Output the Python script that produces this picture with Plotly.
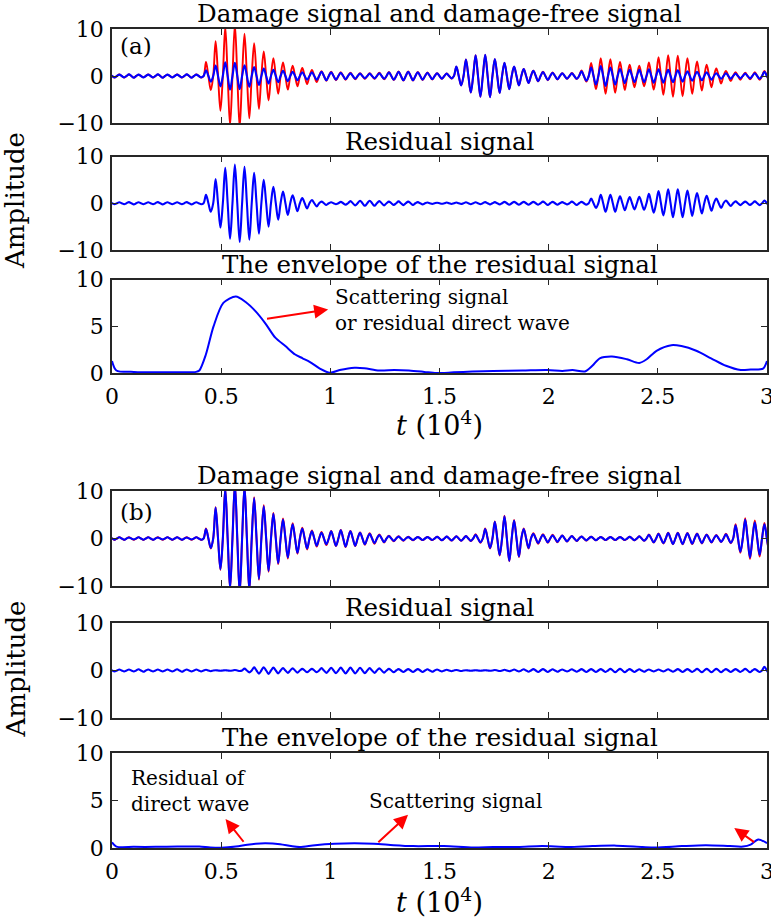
import plotly.graph_objects as go
from plotly.subplots import make_subplots

# ---------------- data ----------------
# oscillation grid: one peak per cycle, amplitudes listed per cycle (cycle -1 .. 67)
T0 = 0.0336      # time of first listed peak (x 10^4), cycle index 0
PERIOD = 0.0441  # carrier period (x 10^4)

a_damage = [0.35, 0.35, 0.35, 0.3, 0.35, 0.35, 0.3, 0.35, 0.35, 0.35,
            3.0, 7.4, 10.5, 11.0, 9.0, 7.0, 5.2, 3.8, 2.9, 2.2,
            1.7, 1.3, 1.0, 0.9, 0.8, 0.7, 0.6, 0.6, 0.7, 0.85,
            0.95, 0.95, 0.85, 0.75, 0.6, 0.55, 2.0, 3.5, 4.4, 4.5,
            3.6, 2.8, 2.0, 1.5, 1.15, 0.9, 0.75, 0.6, 0.65, 1.2,
            2.8, 3.8, 3.6, 3.0, 2.4, 2.2, 2.9, 4.0, 4.4, 4.3,
            3.8, 3.1, 2.4, 1.6, 1.1, 0.8, 0.7, 0.8, 1.1]
a_free = [0.3, 0.3, 0.35, 0.3, 0.3, 0.35, 0.3, 0.3, 0.35, 0.3,
          1.2, 2.2, 2.9, 2.8, 2.3, 1.9, 1.6, 1.3, 1.1, 0.9,
          0.8, 0.8, 0.9, 0.8, 0.7, 0.6, 0.5, 0.5, 0.6, 0.8,
          0.9, 0.9, 0.8, 0.7, 0.55, 0.5, 2.0, 3.5, 4.4, 4.5,
          3.6, 2.8, 2.0, 1.5, 1.1, 0.85, 0.7, 0.55, 0.6, 1.0,
          1.8, 2.1, 1.8, 1.5, 1.3, 1.3, 1.4, 1.4, 1.3, 1.2,
          1.0, 0.9, 0.8, 0.6, 0.55, 0.5, 0.5, 0.6, 0.9]
a_residual = [0.2, 0.2, 0.25, 0.2, 0.2, 0.25, 0.2, 0.2, 0.25, 0.2,
              1.8, 5.2, 7.6, 8.3, 7.8, 6.5, 5.0, 3.5, 2.5, 1.7,
              1.1, 0.7, 0.35, 0.2, 0.3, 0.45, 0.55, 0.55, 0.45, 0.35,
              0.4, 0.35, 0.25, 0.15, 0.1, 0.15, 0.15, 0.2, 0.2, 0.25,
              0.25, 0.3, 0.3, 0.3, 0.3, 0.35, 0.3, 0.25, 0.35, 0.3,
              1.0, 1.8, 1.8, 1.5, 1.3, 1.4, 2.0, 2.6, 3.0, 3.0,
              2.7, 2.2, 1.6, 1.0, 0.6, 0.4, 0.35, 0.4, 0.6]
b_damage = [0.3, 0.3, 0.25, 0.3, 0.3, 0.25, 0.3, 0.3, 0.25, 0.3,
            2.1, 6.6, 10.6, 11.6, 11.1, 8.7, 7.0, 5.4, 4.2, 3.2,
            2.3, 1.7, 1.4, 1.6, 1.8, 1.6, 1.3, 1.1, 0.85, 0.6,
            0.5, 0.4, 0.35, 0.35, 0.4, 0.45, 0.5, 0.55, 0.9, 2.1,
            3.6, 4.8, 3.9, 2.1, 1.1, 0.9, 0.8, 0.65, 0.55, 0.45,
            0.4, 0.35, 0.35, 0.35, 0.4, 0.5, 0.85, 1.05, 1.2, 1.2,
            1.15, 1.05, 0.85, 0.75, 1.0, 3.0, 4.3, 3.8, 3.3]
b_free = [0.25, 0.25, 0.2, 0.25, 0.25, 0.2, 0.25, 0.25, 0.2, 0.25,
          2.0, 6.5, 10.5, 11.5, 11.0, 8.5, 6.8, 5.2, 4.0, 3.0,
          2.1, 1.5, 1.2, 1.5, 1.7, 1.5, 1.2, 1.0, 0.75, 0.5,
          0.4, 0.3, 0.3, 0.3, 0.35, 0.4, 0.45, 0.5, 0.8, 2.0,
          3.5, 4.7, 3.8, 2.0, 1.0, 0.8, 0.7, 0.6, 0.5, 0.4,
          0.35, 0.3, 0.3, 0.3, 0.35, 0.45, 0.8, 1.0, 1.15, 1.15,
          1.1, 1.0, 0.8, 0.7, 0.9, 2.8, 4.0, 3.4, 3.0]
b_residual = [0.2, 0.2, 0.2, 0.25, 0.2, 0.2, 0.2, 0.25, 0.2, 0.2,
              0.15, 0.05, 0.05, 0.1, 0.4, 0.65, 0.7, 0.6, 0.5, 0.45,
              0.35, 0.35, 0.5, 0.55, 0.6, 0.6, 0.55, 0.5, 0.45, 0.35,
              0.3, 0.3, 0.3, 0.25, 0.2, 0.15, 0.1, 0.05, 0.05, 0.05,
              0.1, 0.15, 0.2, 0.25, 0.3, 0.3, 0.25, 0.2, 0.25, 0.3,
              0.3, 0.3, 0.35, 0.35, 0.3, 0.25, 0.2, 0.2, 0.25, 0.3,
              0.3, 0.35, 0.35, 0.35, 0.3, 0.3, 0.35, 0.3, 0.8]

env_a_t = [0, 0.02, 0.1, 0.2, 0.3, 0.385, 0.4, 0.43, 0.465, 0.51, 0.567, 0.612,
           0.658, 0.703, 0.748, 0.794, 0.839, 0.873, 0.907, 0.952, 0.998, 1.043,
           1.111, 1.156, 1.224, 1.293, 1.36, 1.43, 1.485, 1.565, 1.65, 1.746,
           1.88, 1.995, 2.063, 2.109, 2.166, 2.2, 2.234, 2.29, 2.358, 2.415,
           2.449, 2.494, 2.562, 2.608, 2.676, 2.744, 2.812, 2.88, 2.925, 2.982, 3.0]
env_a_v = [1.3, 0.3, 0.15, 0.1, 0.12, 0.15, 0.3, 2.0, 5.0, 7.5, 8.2, 7.6,
           6.6, 5.3, 3.8, 2.9, 2.0, 1.6, 1.2, 0.5, 0.05, 0.35,
           0.6, 0.55, 0.3, 0.35, 0.3, 0.15, 0.02, 0.1, 0.18, 0.25,
           0.3, 0.35, 0.25, 0.35, 0.2, 0.8, 1.6, 1.8, 1.5, 1.1,
           1.5, 2.4, 3.0, 2.9, 2.4, 1.6, 0.8, 0.35, 0.4, 0.5, 1.3]
env_b_t = [0, 0.02, 0.1, 0.2, 0.3, 0.4, 0.45, 0.5, 0.567, 0.62, 0.658, 0.703,
           0.77, 0.82, 0.86, 0.93, 1.02, 1.11, 1.2, 1.29, 1.38, 1.52, 1.655,
           1.746, 1.86, 1.97, 2.09, 2.2, 2.31, 2.43, 2.49, 2.61, 2.72, 2.83,
           2.89, 2.925, 2.96, 3.0]
env_b_v = [0.6, 0.15, 0.12, 0.12, 0.15, 0.15, 0.05, 0.02, 0.15, 0.35, 0.45, 0.5,
           0.4, 0.2, 0.1, 0.3, 0.45, 0.5, 0.45, 0.3, 0.2, 0.2, 0.05,
           0.1, 0.1, 0.2, 0.1, 0.2, 0.25, 0.1, 0.05, 0.2, 0.3, 0.2,
           0.15, 0.35, 0.9, 0.5]

x_ticks = [0, 0.5, 1, 1.5, 2, 2.5, 3]
x_tick_text = ["0", "0.5", "1", "1.5", "2", "2.5", "3"]
titles = ["Damage signal and damage-free signal", "Residual signal",
          "The envelope of the residual signal"] * 2

RED = "#ff0000"
BLUE = "#0000ff"
FONT = "DejaVu Serif"
AX = "#262626"


def wave(amps):
    xs, ys = [], []
    for i, a in enumerate(amps):
        tk = T0 + (i - 1) * PERIOD
        xs += [tk - PERIOD / 4, tk, tk + PERIOD / 4, tk + PERIOD / 2]
        ys += [0, a, 0, -a]
    return xs, ys


fig = make_subplots(rows=6, cols=1)

def add_wave(amps, color, width, row):
    xs, ys = wave(amps)
    fig.add_trace(go.Scatter(x=xs, y=ys, mode="lines",
                             line=dict(color=color, width=width, shape="spline", smoothing=1),
                             showlegend=False, hoverinfo="skip"), row=row, col=1)

add_wave(a_damage, RED, 1.9, 1)
add_wave(a_free, BLUE, 2.1, 1)
add_wave(a_residual, BLUE, 2.1, 2)
fig.add_trace(go.Scatter(x=env_a_t, y=env_a_v, mode="lines",
                         line=dict(color=BLUE, width=2, shape="spline", smoothing=0.8),
                         showlegend=False), row=3, col=1)
add_wave(b_damage, RED, 1.9, 4)
add_wave(b_free, BLUE, 2.1, 4)
add_wave(b_residual, BLUE, 2.1, 5)
fig.add_trace(go.Scatter(x=env_b_t, y=env_b_v, mode="lines",
                         line=dict(color=BLUE, width=2, shape="spline", smoothing=0.8),
                         showlegend=False), row=6, col=1)

W, H = 771, 917
def py(px):
    return 1 - px / H

frames = [(29, 123), (156.5, 250), (279.5, 373.3), (491, 586), (623, 718), (753, 848)]
xdom = [112 / W, 767 / W]

layout = dict(width=W, height=H, margin=dict(l=0, r=0, t=0, b=0, autoexpand=False),
              paper_bgcolor="white", plot_bgcolor="white",
              font=dict(family=FONT, size=22, color="black"))
for i, (top, bot) in enumerate(frames, start=1):
    sfx = "" if i == 1 else str(i)
    show_x = i in (3, 6)
    layout["xaxis" + sfx] = dict(domain=xdom, range=[0, 3], tickvals=x_ticks, ticktext=x_tick_text,
                                 showticklabels=show_x, ticks="inside", ticklen=6, tickwidth=1,
                                 tickcolor=AX, showline=True, linecolor=AX, linewidth=1.5,
                                 mirror="allticks", showgrid=False, zeroline=False, automargin=False,
                                 tickfont=dict(family=FONT, size=22), ticklabelstandoff=3,
                                 ticklabeloverflow="allow")
    if i in (3, 6):
        yr, yt = [0, 10], [0, 5, 10]
    else:
        yr, yt = [-10, 10], [-10, 0, 10]
    layout["yaxis" + sfx] = dict(domain=[py(bot), py(top)], range=yr, tickvals=yt,
                                 ticks="inside", ticklen=6, tickwidth=1, tickcolor=AX,
                                 showline=True, linecolor=AX, linewidth=1.5, mirror="allticks",
                                 showgrid=False, zeroline=False, automargin=False,
                                 tickfont=dict(family=FONT, size=22), ticklabelstandoff=2,
                                 ticklabeloverflow="allow")
fig.update_layout(**layout)

ann = []
xc = (xdom[0] + xdom[1]) / 2
for (top, bot), t in zip(frames, titles):
    ann.append(dict(text=t, xref="paper", yref="paper", x=xc, y=py(top), xanchor="center",
                    yanchor="bottom", showarrow=False, font=dict(size=24.5), yshift=-1))
ann.append(dict(text="(a)", xref="paper", yref="paper", x=118 / W, y=py(46), xanchor="left",
                yanchor="middle", showarrow=False, font=dict(size=23)))
ann.append(dict(text="(b)", xref="paper", yref="paper", x=118 / W, y=py(512), xanchor="left",
                yanchor="middle", showarrow=False, font=dict(size=23)))
for yc in (201, 669.5):
    ann.append(dict(text="Amplitude", xref="paper", yref="paper", x=15 / W, y=py(yc),
                    xanchor="center", yanchor="middle", textangle=-90, showarrow=False,
                    font=dict(size=26)))
for yc in (423, 900):
    ann.append(dict(text="<i>t</i> (10<sup>4</sup>)", xref="paper", yref="paper", x=xc, y=py(yc),
                    xanchor="center", yanchor="middle", showarrow=False, font=dict(size=27)))

# annotations in the envelope panels
ann.append(dict(text="Scattering signal<br>or residual direct wave", xref="x3", yref="y3",
                x=1.01, y=6.8, xanchor="left", yanchor="middle", align="left",
                showarrow=False, font=dict(size=20)))
arrows = [("x3", "y3", 0.703, 5.8, 0.99, 6.8),
          ("x6", "y6", 0.608, 0.5, 0.52, 3.05),
          ("x6", "y6", 1.213, 0.45, 1.356, 3.5),
          ("x6", "y6", 2.948, 0.5, 2.85, 2.1)]
for xr, yr_, tx, ty, hx, hy in arrows:
    ann.append(dict(text="", xref=xr, yref=yr_, axref=xr, ayref=yr_, x=hx, y=hy, ax=tx, ay=ty,
                    showarrow=True, arrowhead=2, arrowsize=1.4, arrowwidth=2, arrowcolor=RED,
                    standoff=0, startstandoff=0))
ann.append(dict(text="Residual of<br>direct wave", xref="x6", yref="y6", x=0.08, y=6.0,
                xanchor="left", yanchor="middle", align="left", showarrow=False,
                font=dict(size=20)))
ann.append(dict(text="Scattering signal", xref="x6", yref="y6", x=1.17, y=4.9,
                xanchor="left", yanchor="middle", align="left", showarrow=False,
                font=dict(size=20)))
fig.update_layout(annotations=ann)

fig.write_html("out.html", config={"displayModeBar": False},
               post_script="document.body.style.margin='0';document.body.style.overflow='hidden';")
